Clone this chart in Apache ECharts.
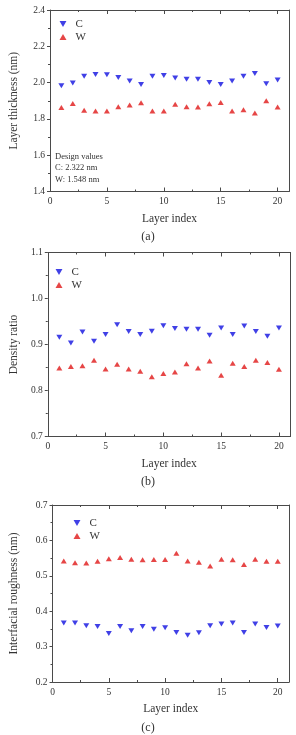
<!DOCTYPE html>
<html>
<head>
<meta charset="utf-8">
<script src="https://cdn.jsdelivr.net/npm/echarts@6/dist/echarts.min.js"></script>
<style>
  html, body { margin: 0; padding: 0; background: #fff; }
  #chart { width: 296px; height: 735px; }
</style>
</head>
<body>
<div id="chart"></div>
<script>
// layer index (x) shared by all three panels
const layers = [1, 2, 3, 4, 5, 6, 7, 8, 9, 10, 11, 12, 13, 14, 15, 16, 17, 18, 19, 20]

// (a) layer thickness (nm)
const thickC = [1.982, 1.998, 2.035, 2.044, 2.043, 2.028, 2.009, 1.989, 2.035, 2.039,
  2.026, 2.019, 2.019, 2.000, 1.989, 2.009, 2.035, 2.050, 1.994, 2.015]
const thickW = [1.863, 1.885, 1.848, 1.843, 1.843, 1.867, 1.876, 1.889, 1.844, 1.843,
  1.881, 1.867, 1.865, 1.883, 1.891, 1.844, 1.850, 1.833, 1.900, 1.865]

// (b) density ratio
const densC = [0.916, 0.903, 0.927, 0.907, 0.922, 0.943, 0.928, 0.922, 0.929, 0.941,
  0.935, 0.933, 0.933, 0.920, 0.936, 0.922, 0.940, 0.928, 0.918, 0.936]
const densW = [0.849, 0.852, 0.854, 0.866, 0.847, 0.857, 0.847, 0.842, 0.830, 0.837,
  0.840, 0.858, 0.849, 0.864, 0.833, 0.859, 0.852, 0.866, 0.861, 0.846]

// (c) interfacial roughness (nm)
const roughC = [0.367, 0.367, 0.359, 0.357, 0.337, 0.357, 0.345, 0.357, 0.349, 0.353,
  0.340, 0.332, 0.339, 0.359, 0.364, 0.367, 0.340, 0.364, 0.354, 0.358]
const roughW = [0.542, 0.537, 0.536, 0.541, 0.548, 0.552, 0.547, 0.545, 0.546, 0.546,
  0.564, 0.542, 0.538, 0.528, 0.547, 0.545, 0.532, 0.547, 0.541, 0.541]

const xMajor = [0, 5, 10, 15, 20]
const xMinor = [2.5, 7.5, 12.5, 17.5]

const yRanges = [[1.4, 2.4, 0.2], [0.7, 1.1, 0.1], [0.2, 0.7, 0.1]]
const yNames = ['Layer thickness (nm)', 'Density ratio', 'Interfacial roughness (nm)']
const captions = ['(a)', '(b)', '(c)']

const FONT = 'Liberation Serif'
const AXIS = '#4a4a4a'
const TEXT = '#333'
const BLUE = '#1010e0'
const RED = '#e01818'
const DOWN = 'path://M0,0L10,0L5,8.66Z'

const grids = [
  { left: 45, top: 10, right: 7, height: 181.5 },
  { left: 39.3, top: 252.5, right: 5.5, height: 184 },
  { left: 45, top: 505, right: 7, height: 177 }
]
const nameGaps = [30, 22, 32.5]
const legendPos = [[54.5, 13.5], [50.5, 261.5], [68.5, 512.5]]
const captionY = [238, 483, 729]

const chart = echarts.init(document.getElementById('chart'))

const xAxis = []
const yAxis = []
grids.forEach((g, i) => {
  const base = { gridIndex: i, type: 'value', min: 0, max: 21, splitLine: { show: false } }
  // bottom, major ticks + labels
  xAxis.push(Object.assign({}, base, {
    position: 'bottom',
    name: 'Layer index',
    nameLocation: 'middle',
    nameGap: 21,
    nameTextStyle: { fontFamily: FONT, fontSize: 11.5, color: TEXT },
    axisLine: { show: true, lineStyle: { color: AXIS, width: 1 } },
    axisTick: { show: true, inside: true, length: 4, customValues: xMajor, lineStyle: { color: AXIS } },
    axisLabel: { customValues: xMajor, fontFamily: FONT, fontSize: 9.5, color: TEXT, margin: 5 }
  }))
  // bottom, minor ticks
  xAxis.push(Object.assign({}, base, {
    position: 'bottom',
    axisLine: { show: false },
    axisTick: { show: true, inside: true, length: 2, customValues: xMinor, lineStyle: { color: AXIS } },
    axisLabel: { show: false }
  }))
  // top mirror
  xAxis.push(Object.assign({}, base, {
    position: 'top',
    axisLine: { show: true, onZero: false, lineStyle: { color: AXIS, width: 1 } },
    axisTick: { show: true, inside: true, length: 4, customValues: xMajor, lineStyle: { color: AXIS } },
    axisLabel: { show: false }
  }))
  xAxis.push(Object.assign({}, base, {
    position: 'top',
    axisLine: { show: false },
    axisTick: { show: true, inside: true, length: 2, customValues: xMinor, lineStyle: { color: AXIS } },
    axisLabel: { show: false }
  }))

  const r = yRanges[i]
  yAxis.push({
    gridIndex: i,
    type: 'value',
    position: 'left',
    min: r[0],
    max: r[1],
    interval: r[2],
    name: yNames[i],
    nameLocation: 'middle',
    nameGap: nameGaps[i],
    nameTextStyle: { fontFamily: FONT, fontSize: 11.5, color: TEXT },
    splitLine: { show: false },
    axisLine: { show: true, onZero: false, lineStyle: { color: AXIS, width: 1 } },
    axisTick: { show: true, inside: false, length: 3, lineStyle: { color: AXIS } },
    minorTick: { show: true, splitNumber: 2, length: 2, lineStyle: { color: AXIS } },
    axisLabel: {
      fontFamily: FONT, fontSize: 9.5, color: TEXT, margin: 5,
      formatter: v => v.toFixed(1)
    }
  })
  yAxis.push({
    gridIndex: i,
    type: 'value',
    position: 'right',
    min: r[0],
    max: r[1],
    interval: r[2],
    splitLine: { show: false },
    axisLine: { show: true, onZero: false, lineStyle: { color: AXIS, width: 1 } },
    axisTick: { show: false },
    axisLabel: { show: false }
  })
})

const panels = [[thickC, thickW], [densC, densW], [roughC, roughW]]
const series = []
panels.forEach((p, i) => {
  series.push({
    name: 'C',
    type: 'scatter',
    xAxisIndex: i * 4,
    yAxisIndex: i * 2,
    symbol: DOWN,
    symbolSize: [6, 5],
    itemStyle: { color: BLUE },
    data: layers.map((x, k) => [x, p[0][k]])
  })
  series.push({
    name: 'W',
    type: 'scatter',
    xAxisIndex: i * 4,
    yAxisIndex: i * 2,
    symbol: 'triangle',
    symbolSize: [6, 5],
    itemStyle: { color: RED },
    data: layers.map((x, k) => [x, p[1][k]])
  })
})

const legend = legendPos.map(pos => ({
  left: pos[0],
  top: pos[1],
  orient: 'vertical',
  itemWidth: 7,
  itemHeight: 6,
  itemGap: 2,
  selectedMode: false,
  textStyle: { fontFamily: FONT, fontSize: 11, color: TEXT, lineHeight: 11, padding: [0, 0, 0, 4] },
  data: [{ name: 'C', icon: DOWN }, { name: 'W', icon: 'triangle' }]
}))

const graphic = captions.map((c, i) => ({
  type: 'text',
  left: 'center',
  top: captionY[i] - 7,
  style: { text: c, fontFamily: FONT, fontSize: 12, fill: TEXT }
}))
graphic.push({
  type: 'text',
  left: 55,
  top: 151,
  style: {
    text: 'Design values\nC: 2.322 nm\nW: 1.548 nm',
    fontFamily: FONT,
    fontSize: 8.5,
    lineHeight: 11.5,
    fill: TEXT
  }
})

chart.setOption({
  animation: false,
  backgroundColor: '#fff',
  grid: grids,
  xAxis,
  yAxis,
  legend,
  graphic,
  series
})
</script>
</body>
</html>
